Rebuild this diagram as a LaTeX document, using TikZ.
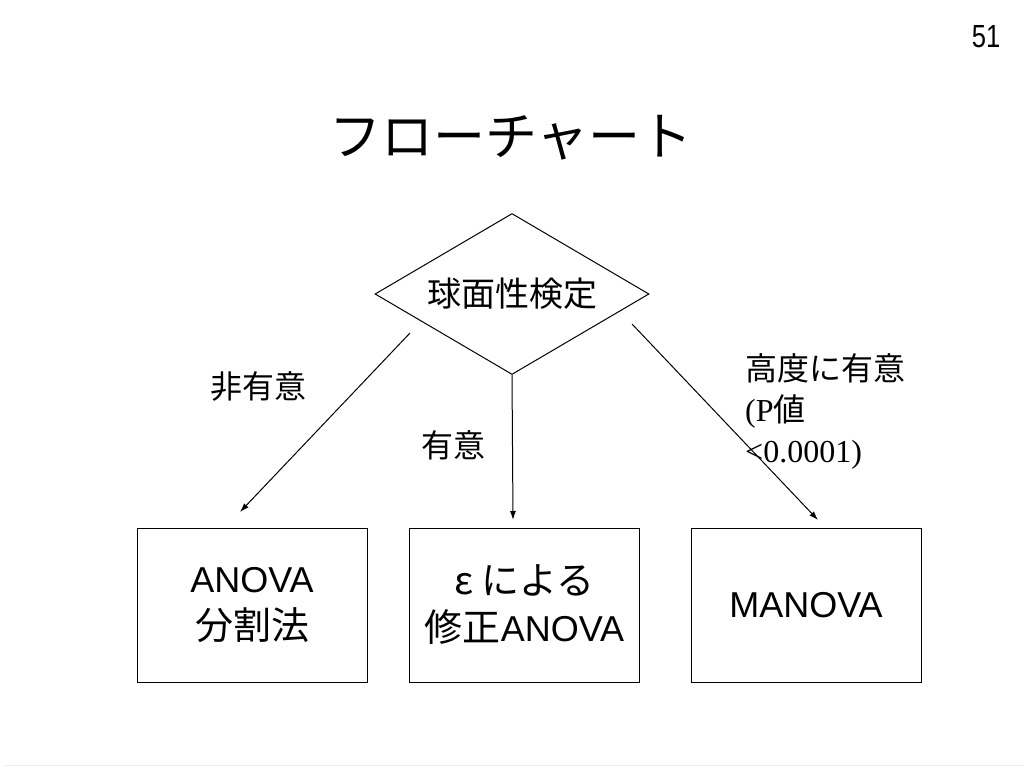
\documentclass[tikz,border=0pt]{standalone}
\usepackage{fontspec}
\usepackage{graphicx}
\usepackage{tikz}
\usetikzlibrary{shapes.geometric,arrows.meta}
\setmainfont{Liberation Sans}
\newfontfamily\jp{Noto Sans CJK JP}
\newfontfamily\tms{Liberation Serif}
\definecolor{bg}{HTML}{FFFFFF}
\definecolor{ink}{HTML}{000000}
\definecolor{rule}{HTML}{EEEEEE}
\tikzset{
  decision/.style={diamond, draw=ink, line width=1pt, inner sep=0pt,
    shape aspect=1.7, minimum width=274pt, minimum height=161pt, text=ink,
    font=\jp\fontsize{34}{40}\selectfont},
  resbox/.style={rectangle, draw=ink, line width=1pt, inner sep=0pt,
    minimum width=230pt, minimum height=154pt, align=center, text=ink,
    font=\fontsize{36}{47}\selectfont},
  flow/.style={draw=ink, line width=1pt, -{Latex[length=9pt,width=6pt]}},
  lab/.style={text=ink, inner sep=0pt, font=\jp\fontsize{32}{41}\selectfont}
}

\begin{document}
\begin{tikzpicture}[x=1pt,y=-1pt]
  \fill[bg] (0,0) rectangle (1024,768);
  \useasboundingbox (0,0) rectangle (1024,768);
  \draw[rule, line width=1pt] (4,765) -- (1024,765);

  \node[text=ink, inner sep=0pt, font=\fontsize{32}{36}\selectfont] (pageno) at (986,37) {\scalebox{0.8}[1]{51}};
  \node[text=ink, inner sep=0pt, font=\jp\fontsize{52}{60}\selectfont] (title) at (511,138) {フローチャート};

  \node[decision] (sph) at (512,294) {球面性検定};

  \node[resbox] (anova) at (252,605) {ANOVA\\{\jp\fontsize{38}{47}\selectfont 分割法}};
  \node[resbox] (eps) at (524.5,605) {{\jp\fontsize{38}{47}\selectfont ε による}\\{\jp\fontsize{38}{47}\selectfont 修正}ANOVA};
  \node[resbox] (manova) at (806,605) {MANOVA};

  \coordinate (nsStart) at (410,333);
  \coordinate (nsEnd) at (240,512);
  \coordinate (sgEnd) at (513,520);
  \coordinate (hsStart) at (632,324);
  \coordinate (hsEnd) at (818,520);

  \draw[flow] (nsStart) -- (nsEnd);
  \draw[flow] (sph.south) -- (sgEnd);
  \draw[flow] (hsStart) -- (hsEnd);

  \node[lab] (nsLab) at (258,387) {非有意};
  \node[lab] (sgLab) at (453,445) {有意};
  \node[lab, anchor=west, align=left] (hsLab) at (745,411)
    {高度に有意\\{\tms (P}値\\{\tms <0.0001)}};
\end{tikzpicture}
\end{document}
